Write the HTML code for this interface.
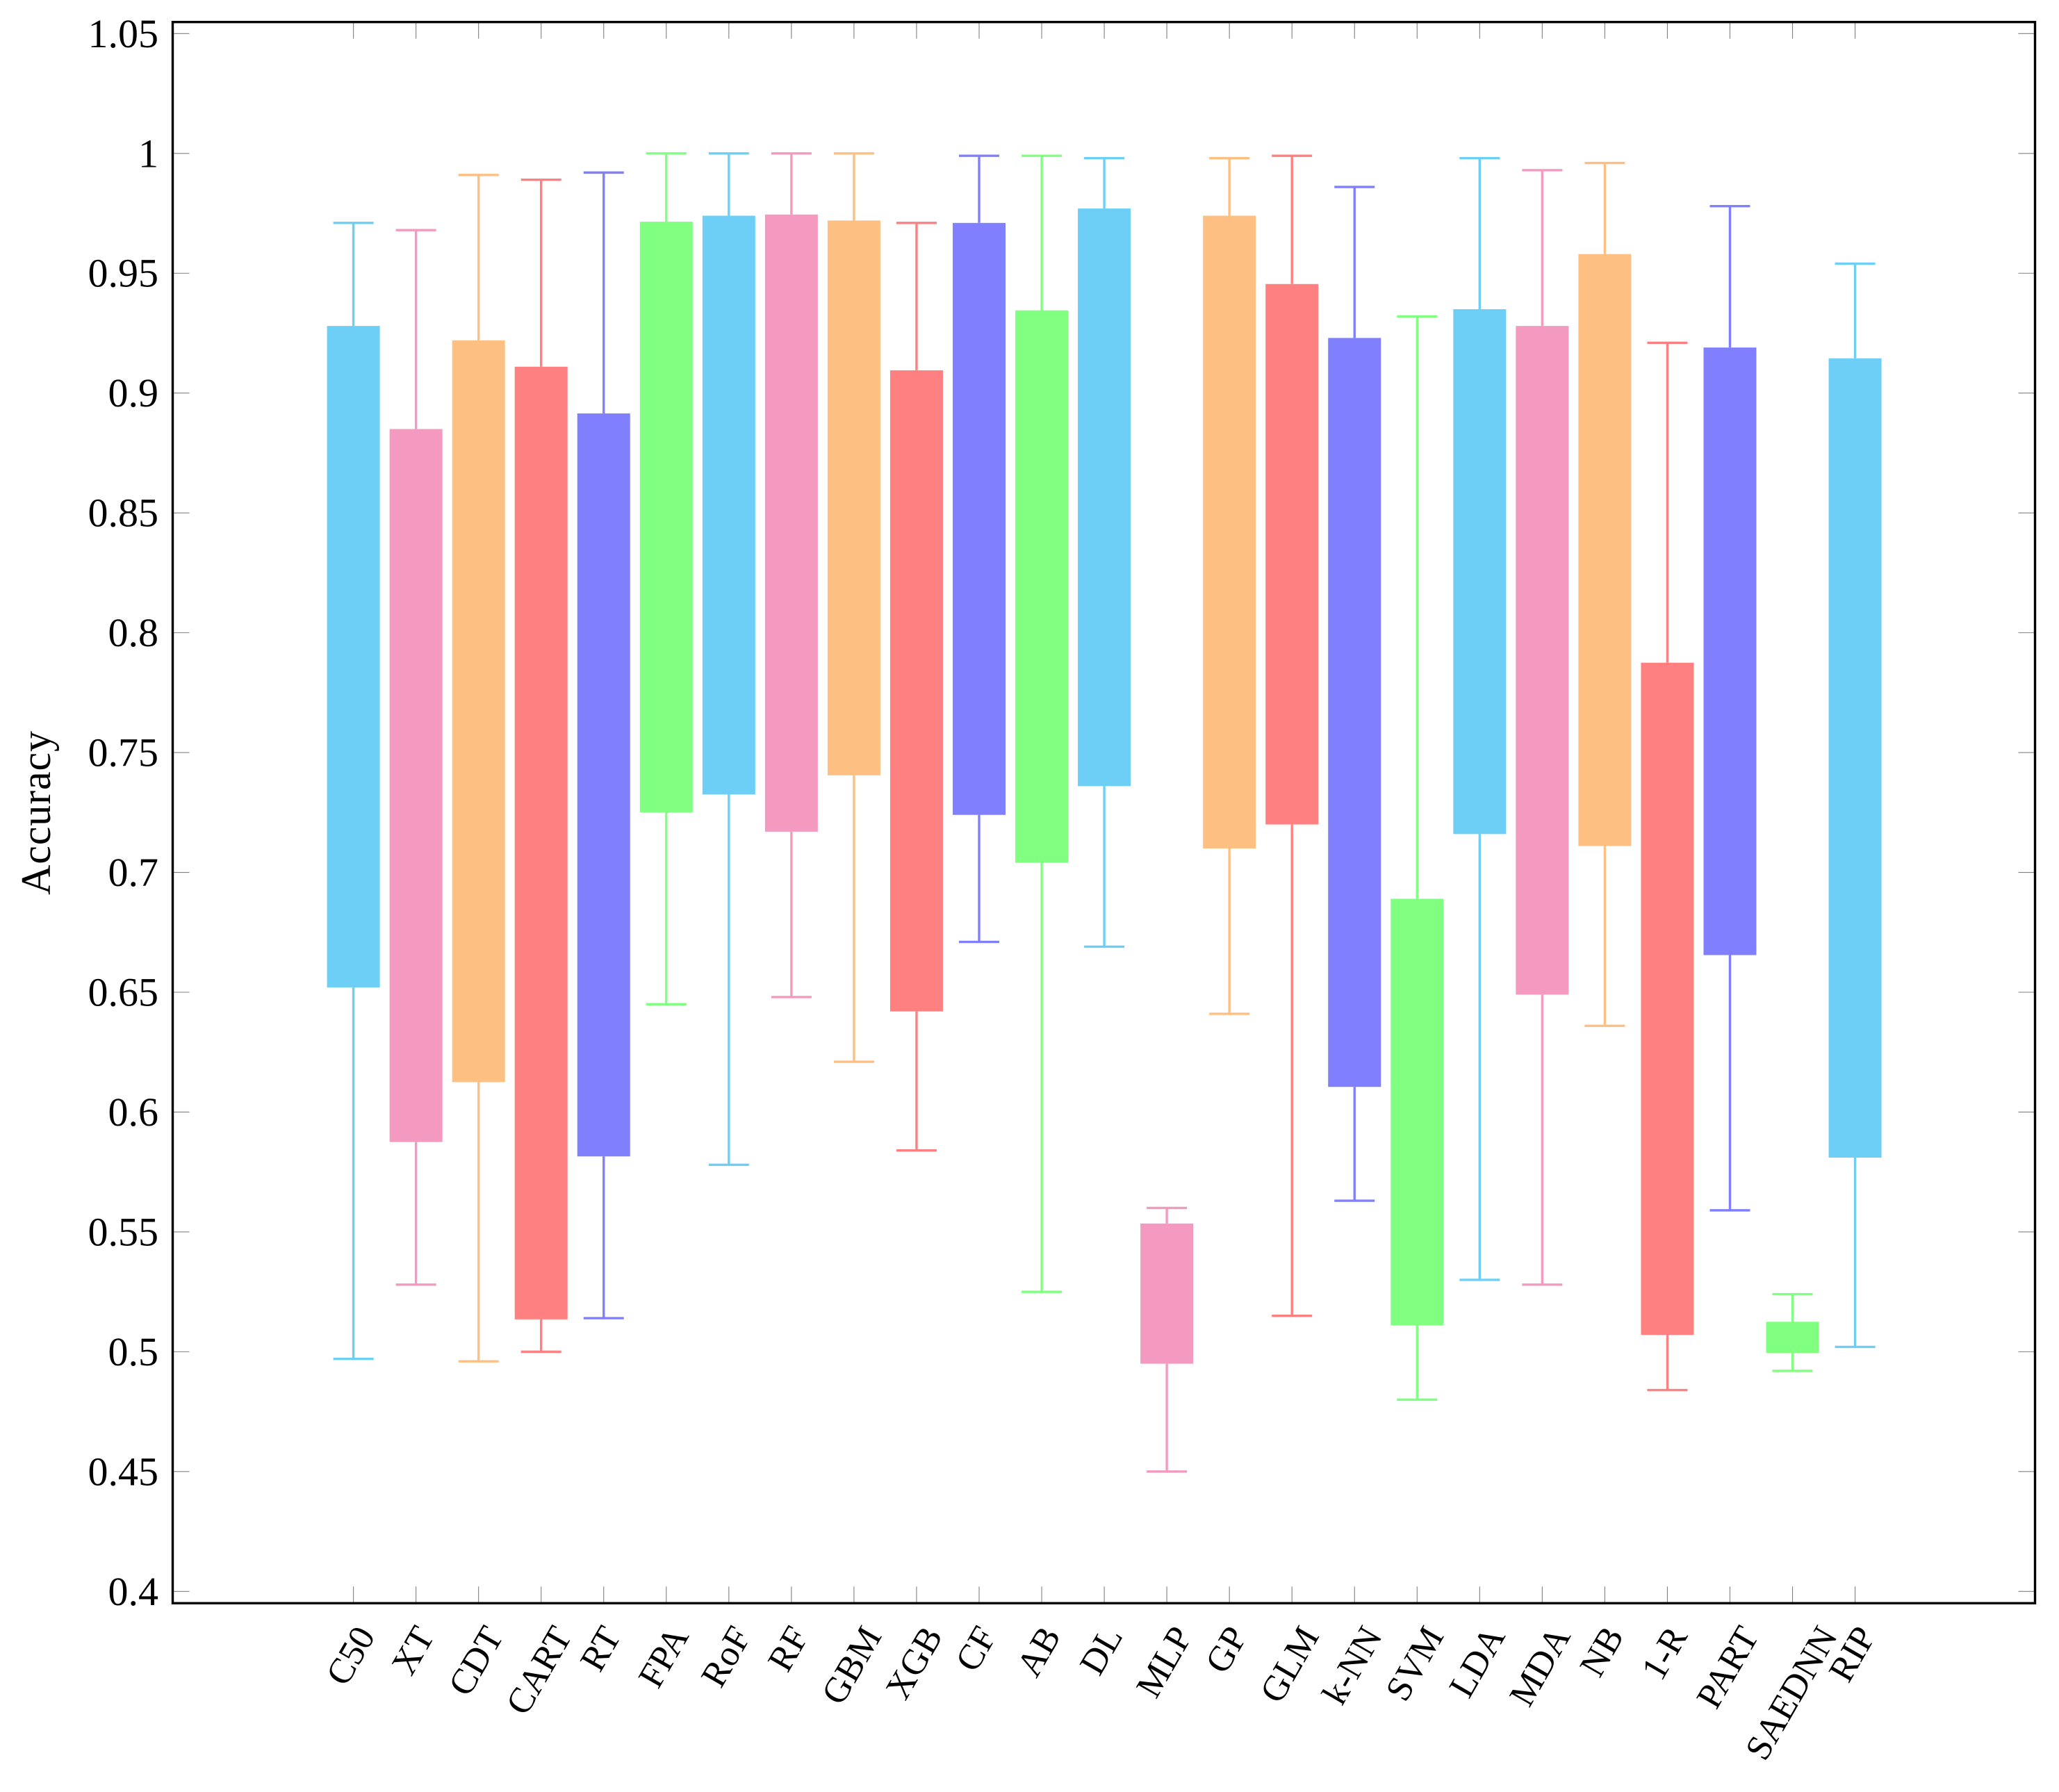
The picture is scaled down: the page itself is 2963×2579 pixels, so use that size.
<!DOCTYPE html>
<html lang="en">
<head>
<meta charset="utf-8">
<title>Accuracy box plot</title>
<style>
  html, body { margin: 0; padding: 0; background: #fff; }
  svg { display: block; }
  text { font-family: "Liberation Serif", serif; fill: #000; }
</style>
</head>
<body>
<svg id="chart" xmlns="http://www.w3.org/2000/svg" width="2963" height="2579" viewBox="0 0 2963 2579">
  <rect x="0" y="0" width="2963" height="2579" fill="#fff"/>
  <g id="marks"></g>
  <g id="ticks"></g>
  <rect x="248.5" y="31.7" width="2680" height="2275.6" fill="none" stroke="#000" stroke-width="3.4"/>
  <text transform="translate(72,1170) rotate(-90)" text-anchor="middle" font-size="60" textLength="236" lengthAdjust="spacing">Accuracy</text>
</svg>
<script>
const categories = ["C50","XT","CDT","CART","RT","FPA","RoF","RF","GBM","XGB","CF","AB","DL","MLP","GP","GLM","k-NN","SVM","LDA","MDA","NB","1-R","PART","SAEDNN","RIP"];
const lowerWhisker = [0.497,0.528,0.496,0.500,0.514,0.645,0.578,0.648,0.621,0.584,0.671,0.525,0.669,0.450,0.641,0.515,0.563,0.480,0.530,0.528,0.636,0.484,0.559,0.492,0.502];
const lowerQuartile = [0.652,0.5875,0.6125,0.5135,0.5815,0.725,0.7325,0.717,0.7405,0.642,0.724,0.704,0.736,0.495,0.710,0.720,0.6105,0.511,0.716,0.649,0.711,0.507,0.6655,0.4995,0.581];
const upperQuartile = [0.928,0.885,0.922,0.911,0.8915,0.9715,0.974,0.9745,0.972,0.9095,0.971,0.9345,0.977,0.5535,0.974,0.9455,0.923,0.689,0.935,0.928,0.958,0.7875,0.919,0.5125,0.9145];
const upperWhisker = [0.971,0.968,0.991,0.989,0.992,1.000,1.000,1.000,1.000,0.971,0.999,0.999,0.998,0.560,0.998,0.999,0.986,0.932,0.998,0.993,0.996,0.921,0.978,0.524,0.954];
const yTickValues = [0.4,0.45,0.5,0.55,0.6,0.65,0.7,0.75,0.8,0.85,0.9,0.95,1,1.05];
const yTickLabels = ["0.4","0.45","0.5","0.55","0.6","0.65","0.7","0.75","0.8","0.85","0.9","0.95","1","1.05"];
const palette = ["#6DCFF6","#F49AC1","#FDC082","#FF8080","#8080FF","#80FF80"];

const NS = "http://www.w3.org/2000/svg";
const FRAME = { left: 248.5, right: 2928.5, top: 31.7, bottom: 2307.3 };
function xScale(i) { return 508.6 + i * 90.04; }
function yScale(v) { return 2290.3 - (v - 0.4) / 0.05 * 172.46; }
function make(tag, attrs, parent) {
  const el = document.createElementNS(NS, tag);
  for (const k in attrs) el.setAttribute(k, attrs[k]);
  parent.appendChild(el);
  return el;
}
const marks = document.getElementById("marks");
const ticks = document.getElementById("ticks");
const BOX_W = 76, CAP_W = 58, LINE_W = 3.4, TICK_LEN = 24, TICK_COL = "#808080";

categories.forEach(function (name, i) {
  const cx = xScale(i);
  const col = palette[i % palette.length];
  const slug = name.toLowerCase();
  const g = make("g", {}, marks);
  
  

  const whiskerLow = make("line", { x1: cx, x2: cx, y1: yScale(lowerWhisker[i]), y2: yScale(lowerQuartile[i]), stroke: col, "stroke-width": LINE_W }, g);
  
  
  const whiskerHigh = make("line", { x1: cx, x2: cx, y1: yScale(upperQuartile[i]), y2: yScale(upperWhisker[i]), stroke: col, "stroke-width": LINE_W }, g);
  
  
  const capLow = make("line", { x1: cx - CAP_W / 2, x2: cx + CAP_W / 2, y1: yScale(lowerWhisker[i]), y2: yScale(lowerWhisker[i]), stroke: col, "stroke-width": LINE_W }, g);
  
  
  const capHigh = make("line", { x1: cx - CAP_W / 2, x2: cx + CAP_W / 2, y1: yScale(upperWhisker[i]), y2: yScale(upperWhisker[i]), stroke: col, "stroke-width": LINE_W }, g);
  
  
  const box = make("rect", { x: cx - BOX_W / 2, y: yScale(upperQuartile[i]), width: BOX_W, height: yScale(lowerQuartile[i]) - yScale(upperQuartile[i]), fill: col }, g);
  
  

  const tickBottom = make("line", { x1: cx, x2: cx, y1: FRAME.bottom, y2: FRAME.bottom - TICK_LEN, stroke: TICK_COL, "stroke-width": 1.1 }, ticks);
  
  
  const tickTop = make("line", { x1: cx, x2: cx, y1: FRAME.top, y2: FRAME.top + TICK_LEN, stroke: TICK_COL, "stroke-width": 1.1 }, ticks);
  
  

  const label = make("text", { "text-anchor": "end", "font-size": 52 }, ticks);
  
  
  label.textContent = name;
  // The label's rotated bounding box is centred on its tick, so the offset grows with text length.
  const labelOffset = 9 + 0.27 * label.getComputedTextLength();
  label.setAttribute("transform", "translate(" + (cx + labelOffset) + ",2354) rotate(-60)");
});

yTickValues.forEach(function (v, i) {
  const y = yScale(v);
  const left = make("line", { x1: FRAME.left, x2: FRAME.left + TICK_LEN, y1: y, y2: y, stroke: TICK_COL, "stroke-width": 1.1 }, ticks);
  
  
  const right = make("line", { x1: FRAME.right, x2: FRAME.right - TICK_LEN, y1: y, y2: y, stroke: TICK_COL, "stroke-width": 1.1 }, ticks);
  
  
  const label = make("text", { x: 228, y: y + 19.5, "text-anchor": "end", "font-size": 58 }, ticks);
  
  
  label.textContent = yTickLabels[i];
});
</script>
</body>
</html>
